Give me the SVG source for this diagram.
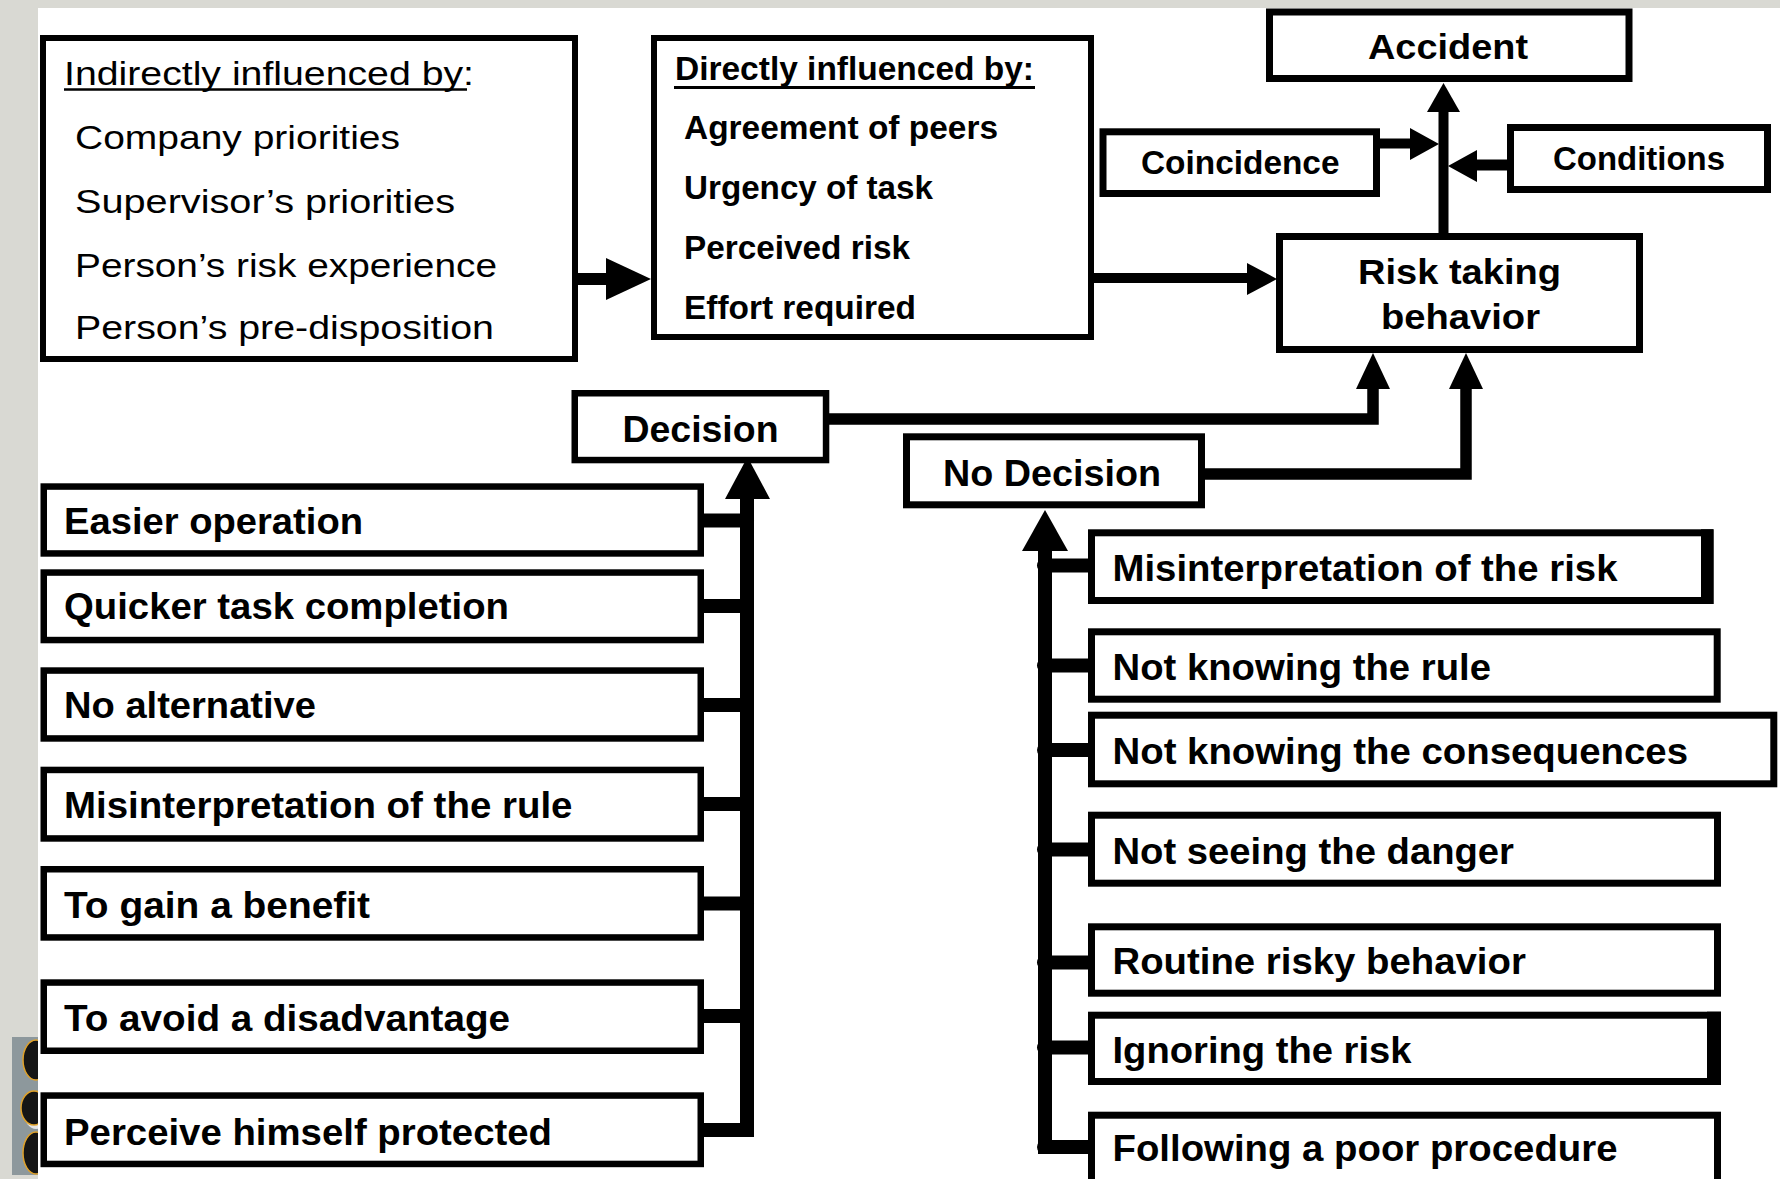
<svg xmlns="http://www.w3.org/2000/svg" width="1780" height="1179" viewBox="0 0 1780 1179">
<style>
.box{fill:#fff;stroke:#000;stroke-width:7}
.tb{stroke-width:6}
.t{font-family:"Liberation Sans",Arial,Helvetica,sans-serif;font-size:37px;font-weight:bold;fill:#000}
.r{font-weight:normal;font-size:34px}
.m{font-size:33px}
.ln{fill:none;stroke:#000;stroke-linejoin:miter}
.stub{stroke:#000;stroke-width:14;stroke-linecap:round}
.ah{fill:#000}
</style>
<rect x="0" y="0" width="1780" height="1179" fill="#d9d9d3"/>
<g id="decoration">
<rect x="12" y="1037" width="28" height="138" fill="#8d989c"/>
<ellipse cx="36" cy="1113" rx="12" ry="16" fill="#e6e6e6"/>
<ellipse cx="36" cy="1060" rx="13" ry="20" fill="#151515" stroke="#e0a22a" stroke-width="1.5"/>
<ellipse cx="34" cy="1108" rx="13" ry="17" fill="#151515" stroke="#e0a22a" stroke-width="1.5"/>
<ellipse cx="36" cy="1153" rx="13" ry="21" fill="#151515" stroke="#e0a22a" stroke-width="1.5"/>
</g>
<rect x="38" y="8" width="1742" height="1171" fill="#fff"/>

<g id="connectors">
<line x1="575" y1="279" x2="610" y2="279" class="ln" stroke-width="12"/>
<polygon class="ah" points="606,258 651,279 606,300"/>
<line x1="1091" y1="278" x2="1250" y2="278" class="ln" stroke-width="10"/>
<polygon class="ah" points="1247,263 1277,279 1247,295"/>
<line x1="1443.5" y1="236" x2="1443.5" y2="108" class="ln" stroke-width="10"/>
<polygon class="ah" points="1427,112 1460,112 1443.5,83"/>
<line x1="1378" y1="143.5" x2="1412" y2="143.5" class="ln" stroke-width="10"/>
<polygon class="ah" points="1410,128 1439,144 1410,160"/>
<line x1="1509" y1="165" x2="1474" y2="165" class="ln" stroke-width="11"/>
<polygon class="ah" points="1477,150 1448,166 1477,182"/>
<path class="ln" stroke-width="11.5" d="M826,419 H1373 V386"/>
<polygon class="ah" points="1356,389 1390,389 1373,353"/>
<path class="ln" stroke-width="11.5" d="M1202,474 H1466 V386"/>
<polygon class="ah" points="1449,389 1483,389 1466,353"/>
<path class="ln" stroke-width="14" d="M747,495 V1130 H700"/>
<polygon class="ah" points="725,499 770,499 747.5,457"/>
<line class="stub" x1="700" y1="520.5" x2="747" y2="520.5"/>
<line class="stub" x1="700" y1="606" x2="747" y2="606"/>
<line class="stub" x1="700" y1="705" x2="747" y2="705"/>
<line class="stub" x1="700" y1="804" x2="747" y2="804"/>
<line class="stub" x1="700" y1="903.5" x2="747" y2="903.5"/>
<line class="stub" x1="700" y1="1016" x2="747" y2="1016"/>
<line class="stub" x1="700" y1="1130" x2="747" y2="1130"/>
<path class="ln" stroke-width="14" d="M1045,547 V1147 H1094"/>
<polygon class="ah" points="1022,551 1068,551 1045,510"/>
<line class="stub" x1="1044" y1="565.5" x2="1094" y2="565.5"/>
<line class="stub" x1="1044" y1="665.5" x2="1094" y2="665.5"/>
<line class="stub" x1="1044" y1="750" x2="1094" y2="750"/>
<line class="stub" x1="1044" y1="849.5" x2="1094" y2="849.5"/>
<line class="stub" x1="1044" y1="962.5" x2="1094" y2="962.5"/>
<line class="stub" x1="1044" y1="1047.5" x2="1094" y2="1047.5"/>
<line class="stub" x1="1044" y1="1147" x2="1094" y2="1147"/>
</g>

<g id="indirect">
<rect class="box tb" x="43" y="38" width="532" height="321"/>
<text class="t r" x="64" y="85" textLength="410" lengthAdjust="spacingAndGlyphs">Indirectly influenced by:</text>
<line x1="64" y1="89.5" x2="467" y2="89.5" stroke="#000" stroke-width="2.5"/>
<text class="t r" x="75" y="149" textLength="325" lengthAdjust="spacingAndGlyphs">Company priorities</text>
<text class="t r" x="75" y="213" textLength="380" lengthAdjust="spacingAndGlyphs">Supervisor’s priorities</text>
<text class="t r" x="75" y="277" textLength="422" lengthAdjust="spacingAndGlyphs">Person’s risk experience</text>
<text class="t r" x="75" y="339" textLength="419" lengthAdjust="spacingAndGlyphs">Person’s pre-disposition</text>
</g>

<g id="directly">
<rect class="box tb" x="654" y="38" width="437" height="299"/>
<text class="t m" x="675" y="80" textLength="359" lengthAdjust="spacingAndGlyphs">Directly influenced by:</text>
<line x1="674" y1="87.5" x2="1035" y2="87.5" stroke="#000" stroke-width="3"/>
<text class="t m" x="684" y="139" textLength="314" lengthAdjust="spacingAndGlyphs">Agreement of peers</text>
<text class="t m" x="684" y="199" textLength="249" lengthAdjust="spacingAndGlyphs">Urgency of task</text>
<text class="t m" x="684" y="259" textLength="226" lengthAdjust="spacingAndGlyphs">Perceived risk</text>
<text class="t m" x="684" y="319" textLength="232" lengthAdjust="spacingAndGlyphs">Effort required</text>
</g>

<g id="accident">
<rect class="box" x="1269.5" y="12" width="359.5" height="66.5"/>
<text class="t" style="font-size:35px" x="1368" y="58.5" textLength="160" lengthAdjust="spacingAndGlyphs">Accident</text>
</g>

<g id="coincidence">
<rect class="box" x="1103" y="131.8" width="273.5" height="61.7"/>
<text class="t m" x="1141" y="174" textLength="198.5" lengthAdjust="spacingAndGlyphs">Coincidence</text>
</g>

<g id="conditions">
<rect class="box" x="1510.5" y="127.5" width="257" height="62"/>
<text class="t m" x="1553" y="169.5" textLength="172" lengthAdjust="spacingAndGlyphs">Conditions</text>
</g>

<g id="risk">
<rect class="box" x="1279.5" y="236.5" width="360" height="113"/>
<text class="t" style="font-size:35px" x="1358" y="284" textLength="203" lengthAdjust="spacingAndGlyphs">Risk taking</text>
<text class="t" style="font-size:35px" x="1381" y="328.5" textLength="159" lengthAdjust="spacingAndGlyphs">behavior</text>
</g>

<g id="decision">
<rect class="box" style="stroke-width:6.5" x="574.75" y="393.25" width="251.3" height="66.8"/>
<text class="t" x="622.5" y="442" textLength="156" lengthAdjust="spacingAndGlyphs">Decision</text>
</g>

<g id="no-decision">
<rect class="box" x="906.5" y="436.8" width="295" height="68"/>
<text class="t" x="943" y="486" textLength="218" lengthAdjust="spacingAndGlyphs">No Decision</text>
</g>

<g id="easier-operation">
<rect class="box" style="stroke-width:6.5" x="43.75" y="486.55" width="657" height="66.9"/>
<text class="t" x="64" y="534" textLength="299" lengthAdjust="spacingAndGlyphs">Easier operation</text>
</g>
<g id="quicker-task">
<rect class="box" style="stroke-width:6.5" x="43.75" y="572.55" width="657" height="67.5"/>
<text class="t" x="64" y="619" textLength="445" lengthAdjust="spacingAndGlyphs">Quicker task completion</text>
</g>
<g id="no-alternative">
<rect class="box" style="stroke-width:6.5" x="43.75" y="670.55" width="657" height="67.9"/>
<text class="t" x="64" y="718" textLength="252" lengthAdjust="spacingAndGlyphs">No alternative</text>
</g>
<g id="misinterpretation-rule">
<rect class="box" style="stroke-width:6.5" x="43.75" y="769.95" width="657" height="68.5"/>
<text class="t" x="64" y="817.5" textLength="508.5" lengthAdjust="spacingAndGlyphs">Misinterpretation of the rule</text>
</g>
<g id="gain-benefit">
<rect class="box" style="stroke-width:6.5" x="43.75" y="869.25" width="657" height="68.2"/>
<text class="t" x="64" y="917.5" textLength="306" lengthAdjust="spacingAndGlyphs">To gain a benefit</text>
</g>
<g id="avoid-disadvantage">
<rect class="box" style="stroke-width:6.5" x="43.75" y="982.55" width="657" height="68.2"/>
<text class="t" x="64" y="1030.5" textLength="446" lengthAdjust="spacingAndGlyphs">To avoid a disadvantage</text>
</g>
<g id="perceive-protected">
<rect class="box" style="stroke-width:6.5" x="43.75" y="1095.55" width="657" height="68.4"/>
<text class="t" x="64" y="1144.5" textLength="488" lengthAdjust="spacingAndGlyphs">Perceive himself protected</text>
</g>

<g id="misinterpretation-risk">
<rect class="box" x="1091.5" y="532.8" width="618.5" height="67.7"/>
<rect x="1701" y="529.3" width="12.5" height="74.7" fill="#000"/>
<text class="t" x="1112.5" y="580.5" textLength="505" lengthAdjust="spacingAndGlyphs">Misinterpretation of the risk</text>
</g>
<g id="not-knowing-rule">
<rect class="box" x="1091.5" y="631.8" width="625.7" height="67.4"/>
<text class="t" x="1112.5" y="679.5" textLength="378.5" lengthAdjust="spacingAndGlyphs">Not knowing the rule</text>
</g>
<g id="not-knowing-consequences">
<rect class="box" x="1091.5" y="715.2" width="682.3" height="68.6"/>
<text class="t" x="1112.5" y="764" textLength="575.5" lengthAdjust="spacingAndGlyphs">Not knowing the consequences</text>
</g>
<g id="not-seeing-danger">
<rect class="box" x="1091.5" y="815.2" width="626" height="68"/>
<text class="t" x="1112.5" y="863.5" textLength="401.5" lengthAdjust="spacingAndGlyphs">Not seeing the danger</text>
</g>
<g id="routine-risky">
<rect class="box" x="1091.5" y="926.8" width="626" height="66.4"/>
<text class="t" x="1112.5" y="974" textLength="413.3" lengthAdjust="spacingAndGlyphs">Routine risky behavior</text>
</g>
<g id="ignoring-risk">
<rect class="box" x="1091.5" y="1015.2" width="626" height="66.3"/>
<rect x="1707" y="1011.7" width="14" height="73.3" fill="#000"/>
<text class="t" x="1112.5" y="1062.5" textLength="299" lengthAdjust="spacingAndGlyphs">Ignoring the risk</text>
</g>
<g id="poor-procedure">
<rect class="box" x="1091.5" y="1115.2" width="626" height="80"/>
<text class="t" x="1112.5" y="1161" textLength="505" lengthAdjust="spacingAndGlyphs">Following a poor procedure</text>
</g>
</svg>
